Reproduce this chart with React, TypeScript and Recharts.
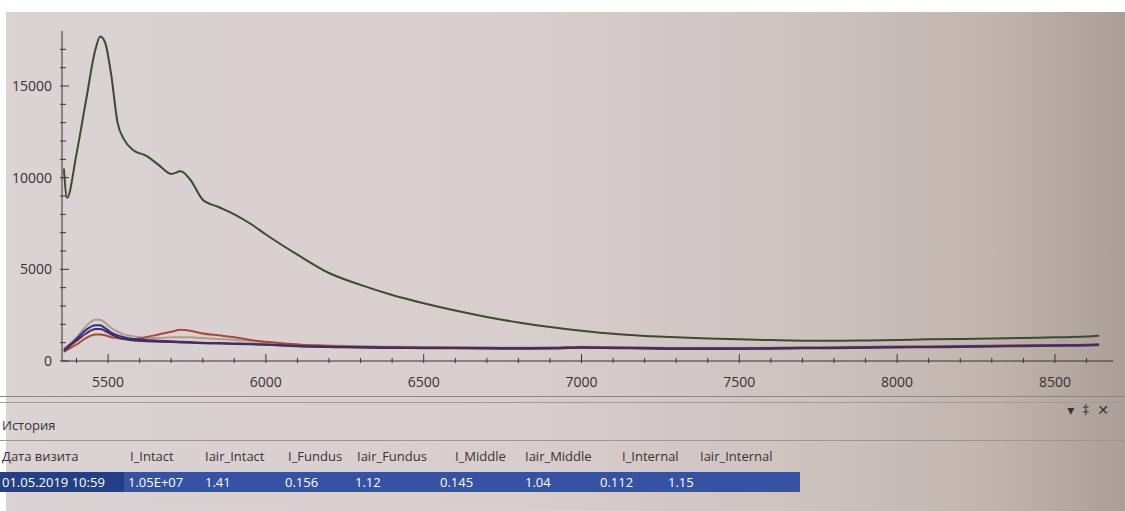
import React from "react"
import { LineChart, Line, XAxis, YAxis } from "recharts"

// wavelength samples (x axis)
const wavelengths = [
  5360, 5370, 5400, 5430, 5460, 5475, 5490, 5510, 5530, 5550,
  5580, 5620, 5660, 5700, 5730, 5760, 5800, 5850, 5900, 5950,
  6000, 6100, 6200, 6300, 6400, 6500, 6600, 6700, 6800, 6900,
  7000, 7100, 7200, 7300, 7400, 7500, 7600, 7700, 7800, 7900,
  8000, 8100, 8200, 8300, 8400, 8500, 8600, 8640,
]

const intactValues = [
  10500, 8900, 11300, 14200, 17000, 17700, 17400, 15600, 13000, 12100,
  11500, 11200, 10700, 10200, 10350, 9900, 8800, 8400, 8000, 7500,
  6900, 5800, 4800, 4150, 3600, 3150, 2750, 2400, 2100, 1850,
  1650, 1480, 1370, 1290, 1230, 1180, 1140, 1110, 1100, 1120,
  1150, 1180, 1200, 1230, 1260, 1290, 1330, 1380,
]

const tanValues = [
  700, 800, 1300, 1900, 2250, 2250, 2100, 1800, 1600, 1450,
  1350, 1250, 1250, 1300, 1300, 1300, 1250, 1200, 1150, 1100,
  1000, 900, 850, 800, 780, 760, 750, 740, 730, 740,
  780, 760, 740, 720, 720, 720, 730, 750, 760, 780,
  800, 810, 830, 850, 870, 890, 910, 930,
]

const redValues = [
  500, 600, 900, 1250, 1450, 1450, 1400, 1300, 1250, 1200,
  1200, 1300, 1450, 1600, 1700, 1650, 1500, 1400, 1300, 1150,
  1050, 900, 820, 780, 760, 740, 730, 720, 710, 720,
  760, 740, 720, 700, 700, 700, 710, 730, 740, 760,
  780, 790, 810, 830, 850, 870, 890, 910,
]

const blueValues = [
  600, 750, 1200, 1700, 1950, 1950, 1800, 1550, 1400, 1300,
  1200, 1150, 1100, 1080, 1050, 1030, 1000, 980, 960, 940,
  900, 820, 780, 750, 730, 720, 710, 700, 690, 700,
  740, 720, 700, 680, 680, 680, 690, 710, 720, 740,
  760, 770, 790, 810, 830, 850, 870, 890,
]

const purpleValues = [
  550, 700, 1100, 1500, 1750, 1750, 1650, 1450, 1300, 1200,
  1120, 1080, 1050, 1030, 1010, 990, 970, 950, 930, 910,
  880, 800, 760, 730, 710, 700, 690, 680, 670, 680,
  720, 700, 680, 660, 660, 660, 670, 690, 700, 720,
  740, 750, 770, 790, 810, 830, 850, 870,
]

const xTicks = [
  5400, 5500, 5600, 5700, 5800, 5900, 6000, 6100, 6200, 6300, 6400,
  6500, 6600, 6700, 6800, 6900, 7000, 7100, 7200, 7300, 7400, 7500,
  7600, 7700, 7800, 7900, 8000, 8100, 8200, 8300, 8400, 8500, 8600,
]
const yTicks = [
  0, 1000, 2000, 3000, 4000, 5000, 6000, 7000, 8000, 9000,
  10000, 11000, 12000, 13000, 14000, 15000, 16000, 17000,
]

const tableHeaders = [
  "Дата визита", "I_Intact", "Iair_Intact", "I_Fundus", "Iair_Fundus",
  "I_Middle", "Iair_Middle", "I_Internal", "Iair_Internal",
]
const tableRow = [
  "01.05.2019 10:59", "1.05E+07", "1.41", "0.156", "1.12",
  "0.145", "1.04", "0.112", "1.15",
]

const chartData = wavelengths.map((w, i) => ({
  w,
  intact: intactValues[i],
  tan: tanValues[i],
  red: redValues[i],
  blue: blueValues[i],
  purple: purpleValues[i],
}))

const axisColor = "#3a3132"
const font = "'Open Sans', 'DejaVu Sans', sans-serif"

const XTick = (props: any) => {
  const { x, y, payload } = props
  const major = payload.value % 500 === 0
  return (
    <g>
      <line x1={x} x2={x} y1={y} y2={y - (major ? 9 : 5)} stroke={axisColor} strokeWidth={1} />
      {major && (
        <text x={x} y={y + 24} textAnchor="middle" fontSize={14} fill={axisColor} fontFamily={font}>
          {payload.value}
        </text>
      )}
    </g>
  )
}

const YTick = (props: any) => {
  const { x, y, payload } = props
  const major = payload.value % 5000 === 0
  return (
    <g>
      <line x1={x} x2={x + (major ? 9 : 6)} y1={y} y2={y} stroke={axisColor} strokeWidth={1} />
      {major && (
        <text x={x - 8} y={y + 5} textAnchor="end" fontSize={14} fill={axisColor} fontFamily={font}>
          {payload.value}
        </text>
      )}
    </g>
  )
}

// column x positions of the history table
const colX = [2, 130, 205, 288, 357, 455, 525, 622, 700]
const valX = [2, 128, 205, 285, 355, 440, 525, 600, 668]

export default function App() {
  return (
    <div
      style={{
        position: "fixed",
        left: 0,
        top: 0,
        width: 1125,
        height: 511,
        overflow: "hidden",
        background: "#ffffff",
        fontFamily: font,
      }}
    >
      <div
        style={{
          position: "absolute",
          left: 6,
          top: 12,
          width: 1119,
          height: 499,
          background: "linear-gradient(90deg, #dbd2d4 0%, #d8cecd 45%, #cfc3c0 70%, #c2b5b0 88%, #ab9d97 100%)",
        }}
      />
      <div style={{ position: "absolute", left: 0, top: 0 }}>
        <LineChart
          width={1125}
          height={398}
          data={chartData}
          margin={{ top: 31, right: 12, bottom: 0, left: 0 }}
        >
          <XAxis
            dataKey="w"
            type="number"
            domain={[5354, 8684]}
            ticks={xTicks}
            tick={<XTick />}
            tickSize={0}
            tickLine={false}
            interval={0}
            height={37}
            axisLine={{ stroke: axisColor }}
          />
          <XAxis
            xAxisId="top"
            orientation="top"
            dataKey="w"
            type="number"
            domain={[5354, 8684]}
            tick={false}
            tickLine={false}
            height={0}
            axisLine={{ stroke: axisColor }}
          />
          <YAxis
            type="number"
            domain={[0, 18000]}
            ticks={yTicks}
            tick={<YTick />}
            tickSize={0}
            tickLine={false}
            interval={0}
            width={62}
            axisLine={{ stroke: axisColor }}
          />
          <YAxis
            yAxisId="right"
            orientation="right"
            type="number"
            domain={[0, 18000]}
            tick={false}
            tickLine={false}
            width={0}
            axisLine={{ stroke: axisColor }}
          />
          <Line type="monotone" dataKey="tan" stroke="#b89a7c" strokeWidth={2} dot={false} isAnimationActive={false} />
          <Line type="monotone" dataKey="red" stroke="#a44a3c" strokeWidth={2} dot={false} isAnimationActive={false} />
          <Line type="monotone" dataKey="blue" stroke="#2c3190" strokeWidth={2} dot={false} isAnimationActive={false} />
          <Line type="monotone" dataKey="purple" stroke="#4a2c58" strokeWidth={2} dot={false} isAnimationActive={false} />
          <Line type="monotone" dataKey="intact" stroke="#3d4a30" strokeWidth={2} dot={false} isAnimationActive={false} />
        </LineChart>
      </div>

      {/* history panel */}
      <div style={{ position: "absolute", left: 0, right: 0, top: 396, height: 1, background: "#8f8584" }} />
      <div style={{ position: "absolute", left: 0, right: 0, top: 402, height: 1, background: "#a59a98" }} />
      <div style={{ position: "absolute", left: 2, top: 416, fontSize: 13, color: "#3a3233" }}>История</div>
      <div style={{ position: "absolute", right: 8, top: 400, fontSize: 14, color: "#3a3233", letterSpacing: 8 }}>
        ▾‡✕
      </div>
      <div style={{ position: "absolute", left: 0, right: 0, top: 440, height: 1, background: "#9f9593" }} />
      {tableHeaders.map((h, i) => (
        <div
          key={h}
          style={{ position: "absolute", left: colX[i], top: 447, fontSize: 13, color: "#3a3233", whiteSpace: "nowrap" }}
        >
          {h}
        </div>
      ))}
      <div style={{ position: "absolute", left: 0, top: 472, width: 800, height: 20, background: "#3552a3" }} />
      <div style={{ position: "absolute", left: 0, top: 472, width: 124, height: 20, background: "#253f86" }} />
      {tableRow.map((v, i) => (
        <div
          key={i}
          style={{ position: "absolute", left: valX[i], top: 473, fontSize: 13, color: "#ffffff", whiteSpace: "nowrap" }}
        >
          {v}
        </div>
      ))}
    </div>
  )
}
